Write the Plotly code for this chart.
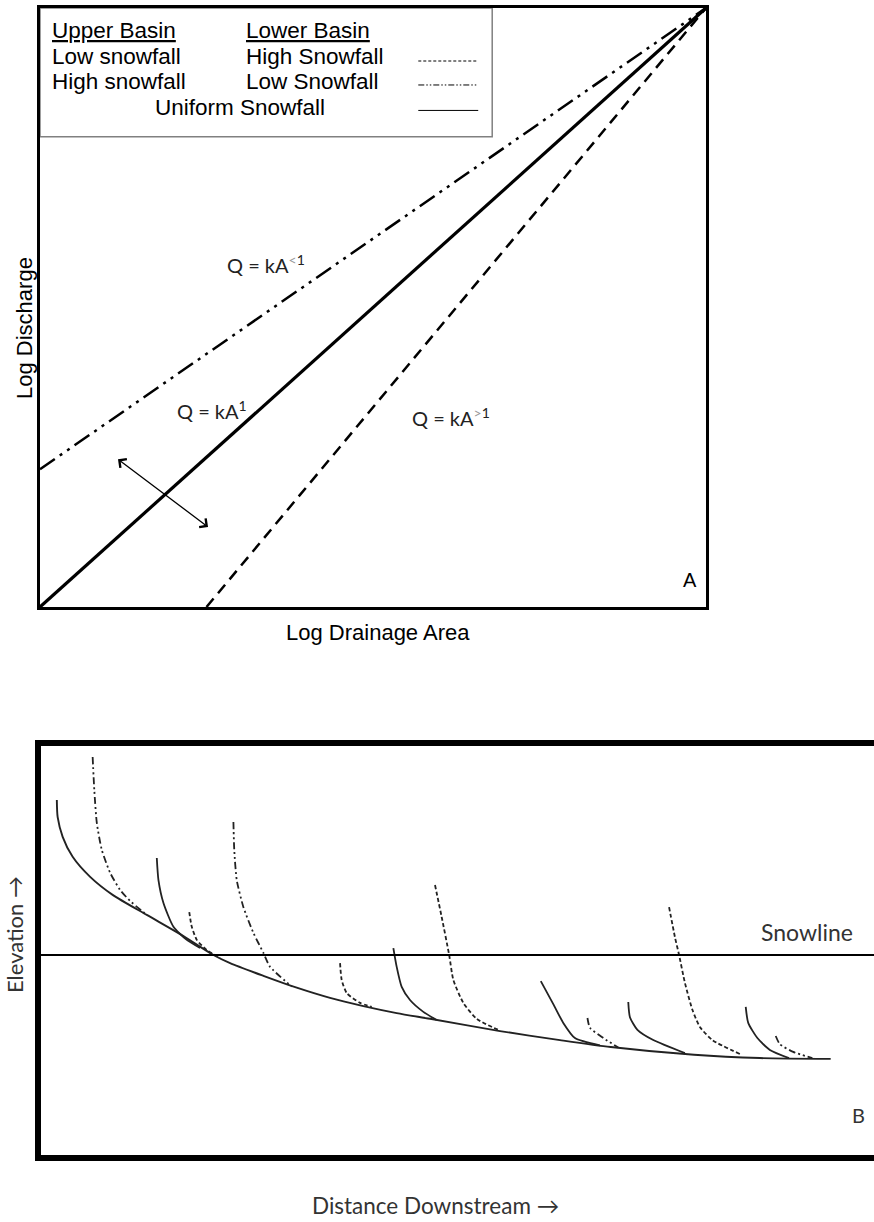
import plotly.graph_objects as go

W, H = 874, 1222

# ---------------- Panel A : log discharge vs log drainage area (normalised) ----------
area_uniform = [0.0, 1.0]
q_uniform = [0.0, 1.0]
area_low_lower = [0.0, 1.0]      # low snowfall lower basin  (Q = kA^<1)
q_low_lower = [0.23, 1.0]
area_high_lower = [0.25, 1.0]    # high snowfall lower basin (Q = kA^>1)
q_high_lower = [0.0, 1.0]

# ---------------- Panel B : long profiles (distance downstream, elevation) -----------
main_x = [1.9, 2.0, 2.6, 3.8, 5.9, 8.6, 12.7, 16.7, 20.7, 22.7, 26.7, 30.7, 34.7, 38.7,
          42.7, 46.7, 55.1, 62.3, 68.4, 78.4, 86.3, 94.8]
main_y = [86.8, 82.6, 77.8, 72.9, 68.0, 63.6, 58.7, 54.0, 48.9, 46.9, 43.8, 40.9, 38.4, 36.4,
          34.7, 33.3, 30.3, 28.1, 26.4, 24.5, 23.7, 23.5]

t1_x = [6.2, 6.4, 6.7, 7.3, 8.3, 9.5, 10.7, 12.7]
t1_y = [97.3, 89.2, 81.2, 74.6, 69.0, 64.8, 62.1, 58.7]
t2_x = [13.9, 14.1, 14.7, 15.9, 17.5, 19.1]
t2_y = [72.6, 67.2, 61.6, 55.8, 52.6, 50.6]
t3_x = [17.8, 18.1, 18.7, 19.9, 21.5]
t3_y = [59.4, 55.8, 52.6, 50.1, 48.2]
t4_x = [23.1, 23.2, 23.5, 24.3, 25.5, 26.7, 27.5, 30.1]
t4_y = [81.4, 74.6, 67.2, 60.6, 54.3, 49.4, 46.0, 41.2]
t5_x = [35.9, 36.1, 36.7, 38.3, 39.7]
t5_y = [46.9, 42.8, 39.6, 37.2, 36.2]
t6_x = [42.3, 42.7, 43.3, 44.3, 45.9, 47.5]
t6_y = [50.6, 46.0, 41.1, 37.9, 35.0, 33.0]
t7_x = [47.3, 48.1, 49.0, 49.5, 50.7, 52.3, 55.1]
t7_y = [66.0, 58.2, 48.9, 42.8, 37.2, 33.3, 30.4]
t8_x = [60.0, 61.5, 62.7, 64.1, 67.1]
t8_y = [42.5, 36.9, 32.3, 28.6, 26.8]
t9_x = [65.6, 65.9, 67.5, 69.3]
t9_y = [33.5, 31.1, 28.6, 26.3]
t10_x = [70.5, 70.7, 71.6, 73.5, 77.3]
t10_y = [37.4, 33.7, 30.6, 28.1, 24.9]
t11_x = [75.4, 76.1, 76.6, 77.3, 78.2, 79.1, 80.6, 83.9]
t11_y = [60.6, 53.3, 48.9, 42.1, 35.5, 31.3, 28.1, 24.7]
t12_x = [84.6, 84.9, 86.0, 87.5, 89.8]
t12_y = [36.2, 32.3, 28.6, 25.7, 23.7]
t13_x = [88.2, 88.7, 90.3, 92.6]
t13_y = [29.1, 27.1, 25.2, 23.7]

snowline_elev = 48.9

SOLID, DASH, DDOT = "solid", "4px,2.5px", "7px,3px,2px,3px,2px,3px"
tributaries = [
    (t1_x, t1_y, DDOT), (t2_x, t2_y, SOLID), (t3_x, t3_y, DASH), (t4_x, t4_y, DDOT),
    (t5_x, t5_y, DASH), (t6_x, t6_y, SOLID), (t7_x, t7_y, DASH), (t8_x, t8_y, SOLID),
    (t9_x, t9_y, DDOT), (t10_x, t10_y, SOLID), (t11_x, t11_y, DASH), (t12_x, t12_y, SOLID),
    (t13_x, t13_y, DDOT),
]

ARIAL = "Liberation Sans, Arial, sans-serif"
CALI = "Lato, Carlito, Calibri, sans-serif"

fig = go.Figure()

# Panel A lines
fig.add_trace(go.Scatter(x=area_low_lower, y=q_low_lower, mode="lines",
                         line=dict(color="black", width=2.5, dash="18px,6px,3px,6px,3px,6px"),
                         xaxis="x", yaxis="y", hoverinfo="skip", showlegend=False))
fig.add_trace(go.Scatter(x=area_uniform, y=q_uniform, mode="lines",
                         line=dict(color="black", width=3.2),
                         xaxis="x", yaxis="y", hoverinfo="skip", showlegend=False))
fig.add_trace(go.Scatter(x=area_high_lower, y=q_high_lower, mode="lines",
                         line=dict(color="black", width=2.5, dash="11px,7px"),
                         xaxis="x", yaxis="y", hoverinfo="skip", showlegend=False))

# Panel B lines
fig.add_trace(go.Scatter(x=main_x, y=main_y, mode="lines",
                         line=dict(color="#222", width=1.9, shape="spline", smoothing=0.7),
                         xaxis="x2", yaxis="y2", hoverinfo="skip", showlegend=False))
for tx, ty, dsh in tributaries:
    fig.add_trace(go.Scatter(x=tx, y=ty, mode="lines",
                             line=dict(color="#222", width=1.8, dash=dsh, shape="spline", smoothing=0.6),
                             xaxis="x2", yaxis="y2", hoverinfo="skip", showlegend=False))

hidden = dict(showgrid=False, zeroline=False, showticklabels=False, ticks="")

shapes = []
# legend box in panel A
shapes.append(dict(type="rect", xref="x", yref="y", x0=0, x1=0.679, y0=0.785, y1=1.0,
                   line=dict(color="#808080", width=1.5), fillcolor="white", layer="below"))
# legend line samples
for yy, dsh in [(0.9115, "3px,2px"), (0.8715, "6px,2px,1.5px,2px,1.5px,2px"), (0.829, "solid")]:
    shapes.append(dict(type="line", xref="x", yref="y", x0=0.568, x1=0.658, y0=yy, y1=yy,
                       line=dict(color="black", width=1, dash=dsh)))
# snowline
shapes.append(dict(type="line", xref="x2 domain", yref="y2", x0=0, x1=1,
                   y0=snowline_elev, y1=snowline_elev, line=dict(color="black", width=2)))

ann = []
def txt(x, y, t, size, fam=ARIAL, xa="left", xref="x", yref="y", angle=0, color="black"):
    ann.append(dict(x=x, y=y, text=t, xref=xref, yref=yref, xanchor=xa, yanchor="middle",
                    showarrow=False, textangle=angle, font=dict(family=fam, size=size, color=color)))

# legend texts
txt(0.015, 0.962, "<u>Upper Basin</u>", 22.5)
txt(0.306, 0.962, "<u>Lower Basin</u>", 22.5)
txt(0.015, 0.919, "Low snowfall", 22.5)
txt(0.306, 0.919, "High Snowfall", 22.5)
txt(0.015, 0.877, "High snowfall", 22.5)
txt(0.306, 0.877, "Low Snowfall", 22.5)
txt(0.170, 0.834, "Uniform Snowfall", 22.5)

# equation labels
txt(0.278, 0.573, "Q = kA<sup><span style='color:#999'>&lt;</span>1</sup>", 20, fam=CALI, color="#222")
txt(0.203, 0.329, "Q = kA<sup>1</sup>", 20, fam=CALI, color="#222")
txt(0.556, 0.318, "Q = kA<sup><span style='color:#999'>&gt;</span>1</sup>", 20, fam=CALI, color="#222")
txt(0.976, 0.045, "A", 20, xa="center")

# double-headed arrow
ann.append(dict(x=0.2523, y=0.1336, ax=0.1126, ay=0.2504, xref="x", yref="y", axref="x", ayref="y",
                text=" ", showarrow=True, arrowhead=4, startarrowhead=4, arrowside="end+start",
                arrowwidth=1.3, arrowsize=1.6, startarrowsize=1.6, arrowcolor="black"))

# axis titles panel A
txt(378 / W, 1 - 632 / H, "Log Drainage Area", 22, xa="center", xref="paper", yref="paper")
txt(24 / W, 1 - 328 / H, "Log Discharge", 22, xa="center", xref="paper", yref="paper", angle=-90)

# panel B texts
txt(97.7, 54.5, "Snowline", 23, fam=CALI, xa="right", xref="x2", yref="y2", color="#333")
txt(98.1, 9.8, "B", 20, fam=CALI, xa="center", xref="x2", yref="y2", color="#333")
txt(435 / W, 1 - 1205 / H, "Distance Downstream \u2192", 22.5, fam=CALI, xa="center",
    xref="paper", yref="paper", color="#333")
txt(14 / W, 1 - 935 / H, "Elevation \u2192", 22, fam=CALI, xa="center",
    xref="paper", yref="paper", angle=-90, color="#333")

fig.update_layout(
    width=W, height=H, margin=dict(l=0, r=0, t=0, b=0),
    paper_bgcolor="white", plot_bgcolor="white",
    xaxis=dict(domain=[40 / W, 706 / W], range=[0, 1], anchor="y", showline=True, mirror=True,
               linecolor="black", linewidth=3, **hidden),
    yaxis=dict(domain=[1 - 607 / H, 1 - 8 / H], range=[0, 1], anchor="x", showline=True, mirror=True,
               linecolor="black", linewidth=3, **hidden),
    xaxis2=dict(domain=[41 / W, 1.0], range=[0, 100], anchor="y2", showline=True, mirror=True,
                linecolor="black", linewidth=6, **hidden),
    yaxis2=dict(domain=[1 - 1155 / H, 1 - 746 / H], range=[0, 100], anchor="x2", showline=True,
                mirror=False, linecolor="black", linewidth=6, **hidden),
    shapes=shapes, annotations=ann, showlegend=False,
)

fig.write_html("out.html")
